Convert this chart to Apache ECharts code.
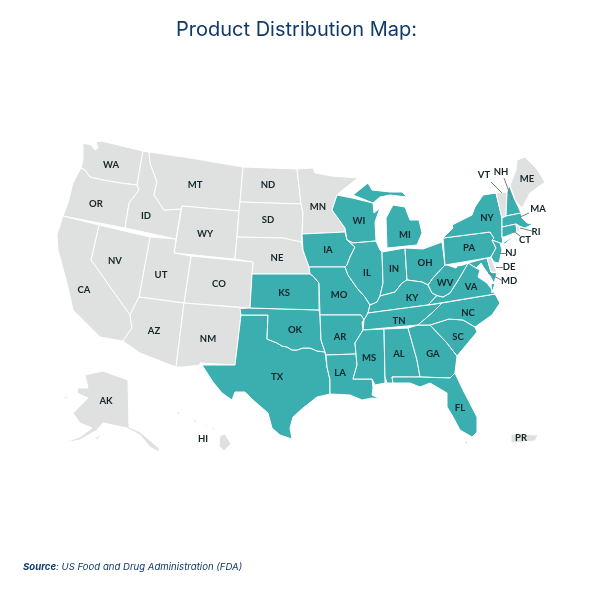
<!DOCTYPE html>
<html>
<head>
<meta charset="utf-8">
<title>Product Distribution Map</title>
<script src="https://cdn.jsdelivr.net/npm/echarts@6/dist/echarts.min.js"></script>
<style>
  html, body { margin: 0; padding: 0; background: #fff; }
  #chart { width: 593px; height: 593px; }
</style>
</head>
<body>
<div id="chart"></div>
<script>
// States shown in teal, everything else stays grey
const servedStates = ['NH', 'MA', 'CT', 'NY', 'NJ', 'PA', 'MD', 'VA', 'WV', 'NC', 'SC', 'GA', 'FL',
  'OH', 'MI', 'IN', 'IL', 'WI', 'KY', 'TN', 'AL', 'MS', 'LA', 'AR', 'MO', 'IA', 'KS', 'OK', 'TX'];
const otherStates = ['WA', 'OR', 'CA', 'NV', 'ID', 'MT', 'WY', 'UT', 'AZ', 'CO', 'NM', 'ND', 'SD', 'NE', 'MN',
  'ME', 'VT', 'RI', 'DE', 'AK', 'HI', 'PR'];
// States labelled off to the side, with a line pointing at them
const calloutStates = ['VT', 'NH', 'MA', 'RI', 'CT', 'NJ', 'DE', 'MD'];

// Map outlines (x, y on the 593 wide canvas)
const outlines = {
  WA: [[[83,143],[91,145],[95,150],[98,148],[96,142],[101,141],[143,151],[137,185],[120,183],[103,180],[90,177],[85,170],[81,168],[83,160]]],
  OR: [[[81,168],[85,170],[90,177],[103,180],[120,183],[137,185],[139,190],[129,203],[125,228],[63,216],[68,203],[73,183]]],
  ID: [[[143,151],[149,152],[150,163],[157,182],[154,195],[164,210],[181,209],[176,239],[125,228],[129,203],[139,190],[137,185]]],
  MT: [[[149,152],[190,158],[243,167],[240,202],[239,211],[182,206],[181,209],[164,210],[154,195],[157,182],[150,163]]],
  WY: [[[182,206],[239,211],[235,259],[174,253]]],
  ND: [[[243,167],[297,169],[301,204],[240,202]]],
  SD: [[[240,202],[301,204],[303,213],[302,234],[301,242],[292,240],[283,238],[237,237],[239,211]]],
  NE: [[[237,237],[283,238],[292,240],[301,242],[303,250],[309,267],[310,274],[252,274],[253,262],[235,259]]],
  CO: [[[191,256],[253,262],[252,274],[250,308],[184,303]]],
  UT: [[[150,237],[176,239],[174,253],[191,256],[184,303],[139,297]]],
  NV: [[[99,225],[150,237],[139,297],[130,315],[91,260]]],
  CA: [[[63,216],[99,225],[91,260],[130,315],[132,328],[123,341],[100,337],[90,327],[73,310],[67,283],[58,250],[57,235]]],
  AZ: [[[139,297],[184,303],[176,367],[168,364],[140,353],[123,341],[132,328],[130,315]]],
  NM: [[[184,303],[240,307.5],[241,315],[235,365],[200,363],[200,365],[183,367],[176,367]]],
  TX: [[[241,315],[268,315],[267,339],[272,341],[277,343],[282,346],[287,347],[292,350],[297,350],[303,348],[310,348],[317,351],[325,352],[327,367],[330,380],[330,394],[317,397],[303,408],[293,417],[290,428],[292,439],[280,435],[272,428],[268,413],[253,400],[245,392],[235,392],[232,400],[222,393],[213,382],[202,365],[235,365]]],
  OK: [[[240,308.5],[250,308],[319,310],[320,315],[321,340],[325,352],[317,351],[310,348],[303,348],[297,350],[292,350],[287,347],[282,346],[277,343],[272,341],[267,339],[268,315],[241,315]]],
  KS: [[[252,274],[310,274],[313,276],[319,283],[319,310],[250,308]]],
  MN: [[[297,169],[313,168],[315,173],[332,176],[358,178],[345,188],[337,195],[332,210],[345,228],[345,232],[302,234],[303,213],[301,204]]],
  IA: [[[302,234],[345,232],[347,240],[355,247],[350,257],[347,265],[345,267],[309,267],[303,250]]],
  MO: [[[309,267],[345,267],[348,275],[357,288],[365,297],[370,305],[368,313],[364,320],[361,315],[320,315],[319,283],[313,276],[310,274]]],
  AR: [[[320,315],[361,315],[364,320],[362,322],[363,330],[355,343],[356,354],[326,355],[325,352],[321,340]]],
  LA: [[[326,355],[356,354],[357,365],[353,379],[372,379],[373,388],[372,395],[380,399],[372,398],[362,400],[350,395],[330,394],[330,380],[327,367]]],
  WI: [[[337,195],[352,198],[373,203],[374,213],[380,208],[375,222],[376,241],[353,243],[347,240],[345,228],[332,210]]],
  IL: [[[353,243],[376,241],[380,250],[382,252],[383,283],[380,296],[377,302],[370,305],[365,297],[357,288],[348,275],[345,267],[347,265],[350,257],[355,247],[347,240]]],
  MI: [[[353,195],[368,183],[372,190],[390,192],[402,192],[407,197],[390,195],[380,197],[373,203]],
       [[387,248],[386,218],[393,205],[405,207],[410,220],[419,220],[422,233],[417,245]]],
  IN: [[[382,252],[405,248],[407,280],[402,283],[395,292],[380,296],[383,283]]],
  OH: [[[405,248],[423,249],[442,242],[445,265],[433,278],[428,285],[422,282],[407,280]]],
  KY: [[[380,296],[395,292],[402,283],[407,280],[422,282],[428,285],[432,293],[437,295.5],[428,305],[368,313],[370,305],[377,302]]],
  TN: [[[442,303],[428,305],[368,313],[364,320],[363,330],[418,325],[432,313]]],
  MS: [[[363,330],[384,329],[385,383],[375,385],[372,379],[353,379],[357,365],[356,354],[355,343]]],
  AL: [[[384,329],[408,328],[417,360],[420,377],[392,377],[393,383],[387,383],[385,377]]],
  GA: [[[408,328],[418,325],[430,325],[447,343],[457,356],[455,373],[450,378],[420,377],[417,360]]],
  FL: [[[392,377],[420,377],[450,378],[455,373],[463,390],[477,417],[477,432],[472,437],[460,430],[452,415],[447,407],[447,393],[430,383],[420,387],[410,383],[393,383]],
       [[465,442],[468,442],[466,444]]],
  SC: [[[430,325],[449,319],[463,320],[475,327],[477,332],[457,356],[447,343]]],
  NC: [[[442,303],[495,294],[500,303],[492,315],[475,327],[463,320],[449,319],[430,325],[418,325],[432,313]]],
  MD: [[[457,266],[487,258],[491,272],[497,273],[494,283],[490,276],[484,268],[481,263],[476,268],[468,263],[463,265]]],
  DE: [[[487,258],[491,258],[497,272],[491,272]]],
  VA: [[[428,305],[437,295.5],[443,297],[450,293],[457,282],[463,272],[468,263],[476,268],[480,270],[478,277],[487,283],[495,294]],
       [[491,284],[495,283],[492,293]]],
  WV: [[[445,265],[447,265],[456,268],[457,266],[463,265],[468,263],[463,272],[457,282],[450,293],[443,297],[437,295.5],[432,293],[428,285],[433,278]]],
  PA: [[[443,238],[490,232],[494,238],[492,240],[496,248],[491,257],[487,258],[445,265]]],
  NY: [[[452,225],[472,215],[475,207],[483,195],[496,193],[502,218],[502,237],[503,243],[500,243],[492,240],[494,238],[490,232],[443,238],[453,228]],
       [[503,243],[515,235],[516,236],[505,244]]],
  NJ: [[[492,240],[500,243],[502,250],[499,263],[494,262],[491,257],[496,248]]],
  VT: [[[496,193],[507,192],[506,216],[502,218]]],
  NH: [[[509,185],[515,200],[521,213],[506,216],[507,192]]],
  ME: [[[517,160],[525,157],[536,168],[545,182],[530,193],[522,208],[515,200],[510,185],[516,170]]],
  MA: [[[502,218],[506,216],[521,213],[522,218],[527,223],[533,224],[525,228],[519,226],[516,224],[502,227]]],
  CT: [[[502,227],[516,224],[517,232],[504,237],[502,237]]],
  RI: [[[516,224],[519,226],[520,230],[517,232]]],
  AK: [[[85,375],[103,371],[128,380],[129,427],[140,432],[153,443],[159,448],[159,452],[150,447],[140,435],[127,428],[113,425],[103,423],[97,430],[80,440],[63,443],[80,437],[92,428],[80,423],[73,413],[83,403],[88,398],[77,393],[78,388],[88,388]],
       [[95,438],[100,435],[98,440]], [[64,395],[68,398],[65,399]]],
  HI: [[[176,412],[180,412],[179,415]], [[193,419],[197,421],[195,423]], [[204,424],[209,426],[207,427]],
       [[211,427],[216,429],[213,430]], [[220,436],[225,434],[231,444],[224,451],[219,446]]],
  PR: [[[511,434],[538,435],[535,441],[511,443]]]
};

// Where each state's abbreviation sits
const labelPoints = {
  WA: [111,165], OR: [96,204], ID: [146,216], MT: [195,185], ND: [268,185], SD: [268,220], WY: [205,234],
  NE: [277,258], MN: [318,207], NV: [115,261], UT: [161,275], CO: [219,284], CA: [84,290], AZ: [154,331],
  NM: [208,339], KS: [284,293], OK: [295,330], TX: [277,377], IA: [328,250], MO: [339,295], AR: [340,337],
  LA: [340,373], MS: [369,358], AL: [399,354], GA: [433,354], FL: [460,408], SC: [458,337], NC: [468,313],
  TN: [399,321], KY: [412,298], VA: [471,287], WV: [445,283], OH: [425,263], IN: [394,269], IL: [367,273],
  MI: [405,235], WI: [359,221], NY: [487,218], PA: [469,248], ME: [527,179], MA: [538,209], NH: [501,172],
  VT: [484,175], RI: [536,232], CT: [525,240], NJ: [511,253], DE: [509,267], MD: [509,281], AK: [106,401],
  HI: [203,439], PR: [521,438]
};

// Callout lines, same order as calloutStates
const calloutFrom = [[491,182], [504,178], [529,213], [532,231], [520,236], [507,253], [503,267], [503,281]];
const calloutTo = [[502,193], [512,200], [520,217], [520,228], [512,230], [499,253], [496,267], [488,273]];

const geoJson = {
  type: 'FeatureCollection',
  features: Object.keys(outlines).map(name => ({
    type: 'Feature',
    properties: { name: name, cp: labelPoints[name] },
    geometry: { type: 'MultiPolygon', coordinates: outlines[name].map(ring => [ring]) }
  }))
};
echarts.registerMap('usa', geoJson);

const chart = echarts.init(document.getElementById('chart'), null, { renderer: 'canvas' });

const option = {
  backgroundColor: '#ffffff',
  animation: false,
  title: [
    {
      text: 'Product Distribution Map:',
      left: 'center',
      top: 20,
      padding: 0,
      textStyle: { fontFamily: 'Inter', fontSize: 20, fontWeight: 400, color: '#0f3a6b' }
    },
    {
      text: '{b|Source}{n|: US Food and Drug Administration (FDA)}',
      left: 23,
      top: 562,
      padding: 0,
      textStyle: {
        rich: {
          b: { fontFamily: 'Inter', fontSize: 9.6, fontWeight: 700, fontStyle: 'italic', color: '#0f3a6b' },
          n: { fontFamily: 'Inter', fontSize: 9.6, fontWeight: 400, fontStyle: 'italic', color: '#0f3a6b' }
        }
      }
    }
  ],
  geo: {
    map: 'usa',
    roam: false,
    silent: true,
    // outlines are already in canvas units so no projection is needed
    projection: { project: p => p, unproject: p => p },
    boundingCoords: [[0, 0], [593, 593]],
    layoutCenter: ['50%', '50%'],
    layoutSize: '100%',
    itemStyle: { areaColor: '#dfe0e0', borderColor: '#ffffff', borderWidth: 1 },
    label: { show: true, fontFamily: 'Lato', fontSize: 9.5, fontWeight: 700, color: '#14262a' },
    regions: servedStates.map(name => ({ name: name, itemStyle: { areaColor: '#3baeaf' } }))
      .concat(otherStates.map(name => ({ name: name, itemStyle: { areaColor: '#dfe0e0' } })))
  },
  series: [
    {
      name: 'Callouts',
      type: 'lines',
      coordinateSystem: 'geo',
      silent: true,
      polyline: false,
      symbol: 'none',
      lineStyle: { color: '#7a8082', width: 1, opacity: 1, curveness: 0 },
      data: calloutStates.map((name, i) => ({ name: name, coords: [calloutFrom[i], calloutTo[i]] }))
    }
  ]
};
chart.setOption(option);
</script>
</body>
</html>
